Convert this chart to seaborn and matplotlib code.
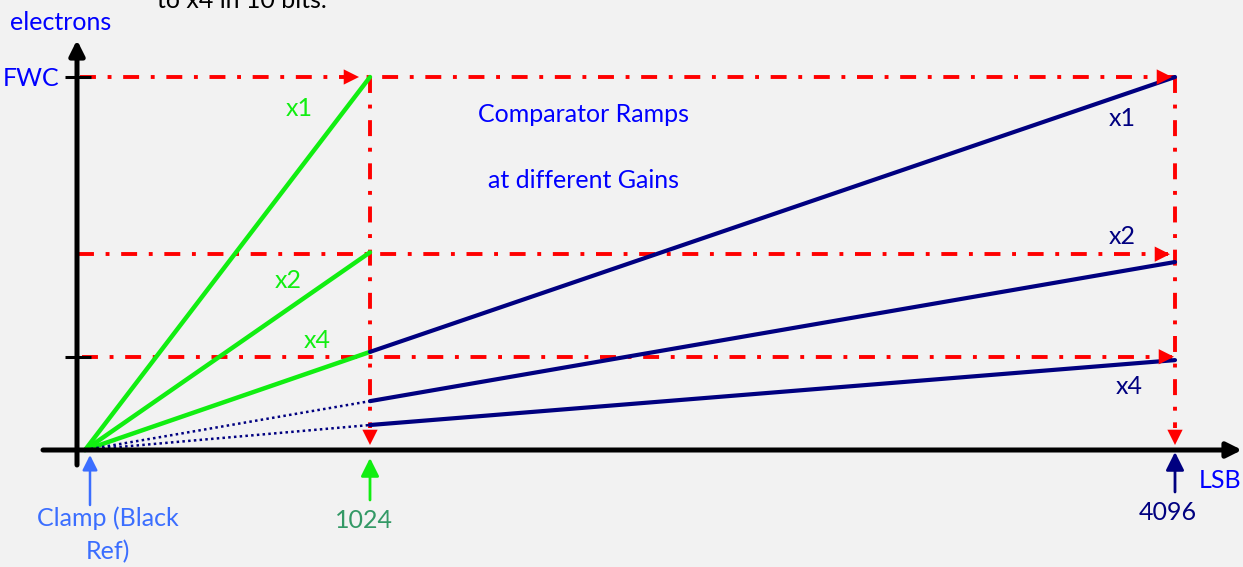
import numpy as np
import pandas as pd
import matplotlib
matplotlib.use("Agg")
import matplotlib.pyplot as plt
import seaborn as sns

# ---------------- data ----------------
gains = ["x1", "x2", "x4"]
lsb_switch = 1024          # 10-bit gain switch point
lsb_full = 4096            # 12-bit full scale
fwc = 1.0                  # electrons, normalised to full well
green_end = [1.0, 0.53, 0.263]          # 10-bit ramps reach these at 1024
blue_at_switch = [0.263, 0.131, 0.067]  # 12-bit ramps value at 1024
blue_end = [1.0, 0.504, 0.241]          # 12-bit ramps value at 4096
red_levels = [1.0, 0.525, 0.25]         # horizontal guide levels
tick_levels = [1.0, 0.25]
x_tick_labels = ["1024", "4096"]

# ---------------- style ----------------
sns.set_theme(style="white")
plt.rcParams["font.family"] = ["Lato", "DejaVu Sans"]

BG = "#f2f2f2"
GREEN = "#11ee11"
NAVY = "#000080"
RED = "#ff0000"
BLUE = "#0000ff"
CLAMP = "#3b6eff"
DKGREEN = "#339966"
FS = 18

W, H = 1243, 567
fig = plt.figure(figsize=(W / 100, H / 100), dpi=100)
fig.patch.set_facecolor(BG)
ax = fig.add_axes([0, 0, 1, 1])
ax.set_facecolor(BG)

# diagram scale: the 10-bit part (0..1024) is drawn wider than the 12-bit part
SEG1, SEG2 = 285.0, 805.0


def fwd(x):
    x = np.asarray(x, dtype=float)
    return np.where(x <= lsb_switch, x * SEG1 / lsb_switch,
                    SEG1 + (x - lsb_switch) * SEG2 / (lsb_full - lsb_switch))


def inv(p):
    p = np.asarray(p, dtype=float)
    return np.where(p <= SEG1, p * lsb_switch / SEG1,
                    lsb_switch + (p - SEG1) * (lsb_full - lsb_switch) / SEG2)


ax.set_xscale("function", functions=(fwd, inv))
X0 = 85  # pixel column of the origin


def X(px):
    return float(inv(px - X0))


PY = fwc / 373.0


def Y(py):
    return (450 - py) * PY


ax.set_xlim(X(0), X(W))
ax.set_ylim(Y(H), Y(0))
ax.axis("off")


def head(tip, direction, color, length=11, width=5.5):
    dx, dy = direction
    ax.annotate("", xy=tip, xytext=(-dx * length, -dy * length),
                textcoords="offset points",
                arrowprops=dict(arrowstyle=f"-|>,head_length={length},head_width={width}",
                                mutation_scale=1, color=color, lw=0,
                                shrinkA=0, shrinkB=0), zorder=6)


def arrow(start, tip, color, lw, hl, hw):
    ax.annotate("", xy=tip, xytext=start,
                arrowprops=dict(arrowstyle=f"-|>,head_length={hl},head_width={hw}",
                                mutation_scale=1, color=color, lw=lw,
                                shrinkA=0, shrinkB=0), zorder=7)


def ftext(px, py, s, **kw):
    ax.text(px / W, 1 - py / H, s, transform=ax.transAxes, fontsize=FS, **kw)


# ---------------- axes (arrows) ----------------
arrow((X(77), Y(465)), (X(77), Y(40)), "black", 3.6, 9, 4.5)
arrow((X(43), 0), (X(1242), 0), "black", 3.6, 9, 4.5)
for lv in tick_levels:
    ax.plot([X(65), X(91)], [lv, lv], color="black", lw=2.2, zorder=5,
            solid_capstyle="butt")

# ---------------- red dash-dot guides ----------------
dd = (0, (4.1, 3.0, 1.0, 3.0))
RLW = 2.8
ax.plot([X(80), X(1175)], [red_levels[0]] * 2, color=RED, lw=RLW, ls=dd, zorder=3)
ax.plot([X(78), X(1168)], [red_levels[1]] * 2, color=RED, lw=RLW, ls=dd, zorder=3)
ax.plot([X(82), X(1172)], [red_levels[2]] * 2, color=RED, lw=RLW, ls=dd, zorder=3)
head((X(359), red_levels[0]), (1, 0), RED)
head((X(1172), red_levels[0]), (1, 0), RED)
head((X(1170), red_levels[1]), (1, 0), RED)
head((X(1174), red_levels[2]), (1, 0), RED)
for xv in (lsb_switch, lsb_full):
    ax.plot([xv, xv], [fwc, Y(428)], color=RED, lw=RLW, ls=dd, zorder=3)
    head((xv, Y(445)), (0, -1), RED)

# ---------------- ramps ----------------
for g, ge in zip(gains, green_end):
    sns.lineplot(x=[0, lsb_switch], y=[0, ge], color=GREEN, lw=3.2, ax=ax,
                 zorder=4, legend=False)
for g, bs, be in zip(gains, blue_at_switch, blue_end):
    sns.lineplot(x=[lsb_switch, lsb_full], y=[bs, be], color=NAVY, lw=3.0, ax=ax,
                 zorder=4, legend=False)
    if g != "x1":
        ax.plot([0, lsb_switch], [0, bs], color=NAVY, lw=1.8, ls=(0, (1, 1.3)), zorder=4)

# ---------------- bottom markers ----------------
arrow((X(90), Y(505)), (X(90), Y(455)), CLAMP, 1.8, 9, 4.5)
arrow((lsb_switch, Y(500)), (lsb_switch, Y(458)), GREEN, 2.0, 11, 5.5)
arrow((lsb_full, Y(492)), (lsb_full, Y(452)), NAVY, 2.0, 11, 5.5)

# ---------------- texts ----------------
ftext(157, 8, "to x4 in 10 bits.", color="black", ha="left", va="baseline")
ftext(10, 30, "electrons", color=BLUE, ha="left", va="baseline")
ftext(31, 79, "FWC", color=BLUE, ha="center", va="center")
ftext(299, 108, "x1", color=GREEN, ha="center", va="center")
ftext(288, 281, "x2", color=GREEN, ha="center", va="center")
ftext(317, 340, "x4", color=GREEN, ha="center", va="center")
ftext(584, 115, "Comparator Ramps", color=BLUE, ha="center", va="center")
ftext(584, 180, "at different Gains", color=BLUE, ha="center", va="center")
ftext(1122, 119, "x1", color=NAVY, ha="center", va="center")
ftext(1122, 236, "x2", color=NAVY, ha="center", va="center")
ftext(1129, 387, "x4", color=NAVY, ha="center", va="center")
ftext(108, 535, "Clamp (Black\nRef)", color=CLAMP, ha="center", va="center",
      multialignment="center", linespacing=1.5)
ax.text(X(364), Y(521), x_tick_labels[0], color=DKGREEN, ha="center",
        va="center", fontsize=FS)
ax.text(X(1168), Y(512), x_tick_labels[1], color=NAVY, ha="center",
        va="center", fontsize=FS)
ftext(1220, 481, "LSB", color=BLUE, ha="center", va="center")

fig.savefig("out.png", dpi=100, facecolor=BG)
